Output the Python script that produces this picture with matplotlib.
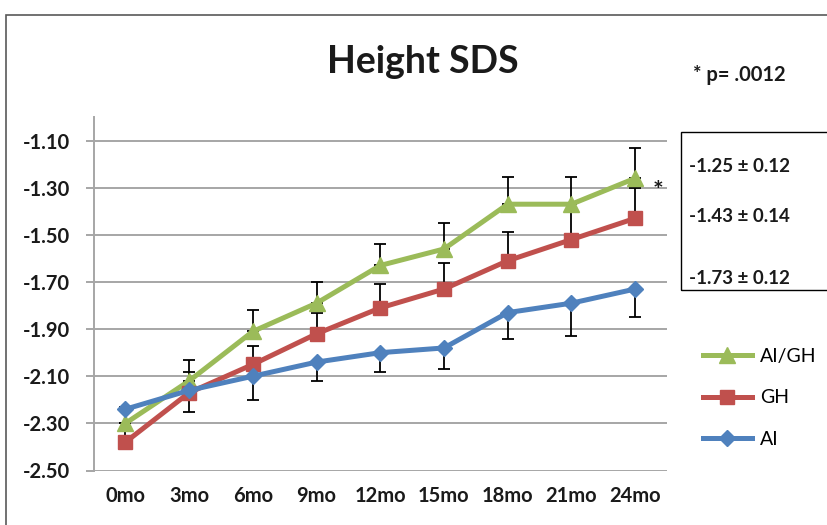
import matplotlib
matplotlib.use("Agg")
import matplotlib.pyplot as plt
from matplotlib.patches import Rectangle
import numpy as np

plt.rcParams['font.family'] = ['Lato', 'DejaVu Sans']

# data
months = ["0mo", "3mo", "6mo", "9mo", "12mo", "15mo", "18mo", "21mo", "24mo"]
ai_gh = [-2.30, -2.12, -1.91, -1.79, -1.63, -1.56, -1.37, -1.37, -1.26]
gh = [-2.38, -2.17, -2.05, -1.92, -1.81, -1.73, -1.61, -1.52, -1.43]
ai = [-2.24, -2.16, -2.10, -2.04, -2.00, -1.98, -1.83, -1.79, -1.73]
# error bars (only one side drawn, like the original)
ai_gh_err = [0.07, 0.09, 0.09, 0.09, 0.09, 0.11, 0.115, 0.115, 0.13]
gh_err = [0.06, 0.09, 0.08, 0.09, 0.10, 0.11, 0.12, 0.12, 0.13]
ai_err = [0.06, 0.09, 0.10, 0.08, 0.08, 0.09, 0.11, 0.14, 0.12]
end_labels = ["-1.25 \u00b1 0.12", "-1.43 \u00b1 0.14", "-1.73 \u00b1 0.12"]

green = "#9BBB59"
red = "#C0504D"
blue = "#4F81BD"

W, H = 827, 525
fig = plt.figure(figsize=(W/100, H/100), dpi=100)
ax = fig.add_axes([93.5/W, 1-470.5/H, (667-93.5)/W, (470.5-117)/H])

x = np.arange(len(months))
zero = np.zeros(len(months))

ax.errorbar(x, ai_gh, yerr=[zero, ai_gh_err], fmt='none', ecolor='black',
            elinewidth=1.3, capsize=4, capthick=1.3, zorder=3)
ax.errorbar(x, gh, yerr=[zero, gh_err], fmt='none', ecolor='black',
            elinewidth=1.3, capsize=4, capthick=1.3, zorder=3)
ax.errorbar(x, ai, yerr=[ai_err, zero], fmt='none', ecolor='black',
            elinewidth=1.3, capsize=4, capthick=1.3, zorder=3)

ax.plot(x, ai_gh, '-^', color=green, lw=3.6, markersize=11, label="AI/GH", zorder=4)
ax.plot(x, gh, '-s', color=red, lw=3.6, markersize=10, label="GH", zorder=5)
ax.plot(x, ai, '-D', color=blue, lw=3.6, markersize=8.5, label="AI", zorder=6)

ax.set_xlim(-0.5, len(months)-0.5)
ax.set_ylim(-2.5, -1.0)
yt = np.round(np.arange(-2.5, -1.0, 0.2), 2)
ax.set_yticks(yt)
ax.set_yticklabels(["%.2f" % v for v in yt])
ax.set_xticks(x)
ax.set_xticklabels(months)
ax.grid(axis='y', color='#A6A6A6', lw=1.4)
ax.set_axisbelow(True)
for s in ['top', 'right', 'bottom']:
    ax.spines[s].set_visible(False)
ax.spines['left'].set_color('#A6A6A6')
ax.spines['left'].set_linewidth(1.4)
ax.tick_params(axis='y', length=6, width=1.4, color='#A6A6A6', pad=11)
ax.tick_params(axis='x', length=0, pad=11)
for lab in ax.get_xticklabels() + ax.get_yticklabels():
    lab.set_fontweight('bold')
    lab.set_fontsize(14.5)
    lab.set_color('#1a1a1a')

leg = ax.legend(loc='center left', bbox_to_anchor=(703/W, 1-398/H),
                bbox_transform=fig.transFigure, frameon=False, fontsize=14,
                handlelength=2.5, handletextpad=0.45, labelspacing=1.25,
                borderpad=0, borderaxespad=0)

fig.text(423/W, 1-62/H, "Height SDS", ha='center', va='center',
         fontsize=27, fontweight='bold', color='#1a1a1a')
fig.text(693/W, 1-75/H, "* p= .0012", ha='left', va='center',
         fontsize=14.5, fontweight='bold', color='#1a1a1a')
fig.text(658/W, 1-192/H, "*", ha='center', va='center',
         fontsize=18, fontweight='bold', color='#1a1a1a')

for lab, yy in zip(end_labels, [167, 216, 278]):
    fig.text(689/W, 1-yy/H, lab, ha='left', va='center',
             fontsize=13.5, fontweight='bold', color='#1a1a1a')

fig.patches.append(Rectangle((681/W, 1-289.5/H), 0.5, (289.5-132)/H,
                             transform=fig.transFigure, fill=False,
                             edgecolor='black', lw=1))
fig.patches.append(Rectangle((5.5/W, -0.2), 1.2, 1.2-14.5/H,
                             transform=fig.transFigure, fill=False,
                             edgecolor='#595959', lw=1.2))

fig.savefig("out.png", dpi=100)
